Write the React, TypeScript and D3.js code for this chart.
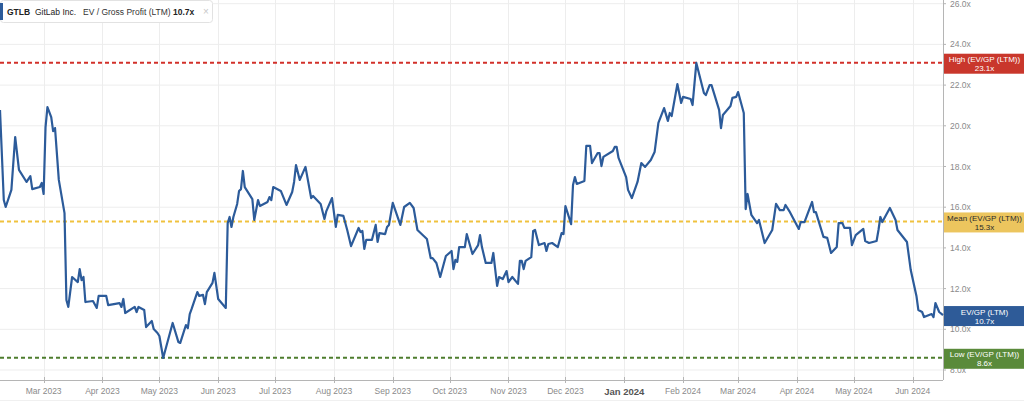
import React from 'react';
import * as d3 from 'd3';

const dates = [
  '2023-02-06','2023-02-08','2023-02-09','2023-02-12','2023-02-14','2023-02-16','2023-02-20','2023-02-22','2023-02-23','2023-02-27',
  '2023-02-28','2023-03-01','2023-03-02','2023-03-03','2023-03-05','2023-03-06','2023-03-07','2023-03-09','2023-03-12','2023-03-13',
  '2023-03-14','2023-03-16','2023-03-19','2023-03-20','2023-03-21','2023-03-22','2023-03-23','2023-03-27','2023-03-29','2023-03-30',
  '2023-04-03','2023-04-04','2023-04-10','2023-04-11','2023-04-12','2023-04-13','2023-04-18','2023-04-19','2023-04-20','2023-04-23',
  '2023-04-24','2023-04-25','2023-04-27','2023-04-28','2023-04-30','2023-05-01','2023-05-03','2023-05-08','2023-05-11','2023-05-12',
  '2023-05-15','2023-05-16','2023-05-17','2023-05-18','2023-05-21','2023-05-22','2023-05-24','2023-05-25','2023-05-26','2023-05-29',
  '2023-05-30','2023-06-01','2023-06-05','2023-06-06','2023-06-07','2023-06-08','2023-06-09','2023-06-11','2023-06-12','2023-06-13',
  '2023-06-14','2023-06-15','2023-06-19','2023-06-20','2023-06-22','2023-06-23','2023-06-27','2023-06-28','2023-06-29','2023-06-30',
  '2023-07-04','2023-07-07','2023-07-10','2023-07-11','2023-07-12','2023-07-14','2023-07-17','2023-07-20','2023-07-21','2023-07-25',
  '2023-07-27','2023-07-28','2023-07-31','2023-08-02','2023-08-03','2023-08-06','2023-08-08','2023-08-10','2023-08-14','2023-08-15',
  '2023-08-16','2023-08-17','2023-08-18','2023-08-21','2023-08-23','2023-08-24','2023-08-25','2023-08-28','2023-08-29','2023-08-30',
  '2023-09-01','2023-09-05','2023-09-07','2023-09-10','2023-09-12','2023-09-14','2023-09-19','2023-09-21','2023-09-22','2023-09-24',
  '2023-09-26','2023-09-29','2023-10-02','2023-10-03','2023-10-04','2023-10-05','2023-10-06','2023-10-09','2023-10-10','2023-10-13',
  '2023-10-16','2023-10-17','2023-10-18','2023-10-20','2023-10-23','2023-10-24','2023-10-26','2023-10-27','2023-10-29','2023-10-31',
  '2023-11-01','2023-11-03','2023-11-06','2023-11-07','2023-11-08','2023-11-09','2023-11-10','2023-11-13','2023-11-14','2023-11-15',
  '2023-11-17','2023-11-20','2023-11-21','2023-11-22','2023-11-24','2023-11-27','2023-11-29','2023-11-30','2023-12-01','2023-12-04',
  '2023-12-05','2023-12-06','2023-12-07','2023-12-11','2023-12-12','2023-12-14','2023-12-15','2023-12-18','2023-12-19','2023-12-20',
  '2023-12-21','2023-12-26','2023-12-27','2023-12-28','2023-12-29','2024-01-02','2024-01-03','2024-01-05','2024-01-08','2024-01-10',
  '2024-01-12','2024-01-15','2024-01-17','2024-01-19','2024-01-22','2024-01-24','2024-01-25','2024-01-26','2024-01-29','2024-01-31',
  '2024-02-01','2024-02-05','2024-02-06','2024-02-08','2024-02-12','2024-02-13','2024-02-15','2024-02-16','2024-02-20','2024-02-21',
  '2024-02-22','2024-02-26','2024-02-27','2024-02-29','2024-03-01','2024-03-04','2024-03-05','2024-03-06','2024-03-08','2024-03-11',
  '2024-03-12','2024-03-15','2024-03-19','2024-03-21','2024-03-23','2024-03-25','2024-03-26','2024-03-28','2024-04-02','2024-04-03',
  '2024-04-05','2024-04-09','2024-04-10','2024-04-11','2024-04-15','2024-04-17','2024-04-19','2024-04-22','2024-04-23','2024-04-25',
  '2024-04-26','2024-04-29','2024-04-30','2024-05-02','2024-05-06','2024-05-07','2024-05-09','2024-05-13','2024-05-14','2024-05-15',
  '2024-05-16','2024-05-20','2024-05-23','2024-05-24','2024-05-29','2024-05-31','2024-06-03','2024-06-04','2024-06-06','2024-06-07',
  '2024-06-11','2024-06-12','2024-06-13','2024-06-15','2024-06-17'
];

const values = [
  20.78,16.35,16.01,16.85,19.45,17.83,17.24,17.53,16.89,16.99,
  17.19,16.65,19.94,20.92,20.43,19.74,19.89,17.34,15.71,11.44,
  11.10,12.57,12.32,12.96,12.42,12.57,11.34,11.39,11.05,11.64,
  11.64,11.19,11.29,11.10,11.49,10.80,11.10,10.85,11.10,10.95,
  10.11,10.21,10.41,10.01,9.82,9.67,8.59,10.31,9.38,9.33,
  10.21,10.06,10.75,11.00,11.83,11.64,11.69,11.24,11.83,12.28,
  12.77,11.49,11.05,15.22,15.52,15.03,15.52,16.16,16.80,16.89,
  17.78,16.99,16.40,15.37,16.35,16.06,16.26,16.50,16.35,16.99,
  16.80,16.11,16.75,17.24,18.07,17.34,17.98,16.45,16.55,16.16,
  15.42,15.81,16.45,15.03,15.62,15.57,14.88,14.09,14.98,14.78,
  14.83,13.95,14.39,14.39,15.13,14.29,14.73,14.68,15.03,15.13,
  16.21,15.13,16.01,16.21,15.96,14.88,14.44,13.50,13.50,13.26,
  12.57,13.60,13.85,12.96,13.41,13.31,14.04,14.04,14.68,13.70,
  14.14,14.63,14.04,13.26,13.26,13.75,12.13,12.57,12.47,12.86,
  12.32,12.57,12.23,13.36,13.36,12.96,13.36,13.55,14.83,14.88,
  14.14,14.24,13.85,14.19,14.24,14.04,14.73,14.68,16.06,15.17,
  17.09,17.48,17.14,17.29,19.01,19.01,18.17,18.66,18.66,18.02,
  18.47,18.76,18.96,18.96,18.42,17.48,16.85,16.45,17.24,18.17,
  17.98,18.32,18.71,20.14,20.87,20.24,20.63,20.48,22.05,21.12,
  21.42,21.32,21.02,23.09,21.61,21.51,22.00,22.00,20.78,19.89,
  20.53,20.97,21.37,21.42,21.66,20.63,15.91,16.65,15.62,15.22,
  15.37,14.24,14.88,16.16,15.86,15.86,16.11,15.81,14.93,15.27,
  15.27,16.26,15.76,15.76,14.54,14.49,13.75,14.04,15.22,15.22,
  14.98,14.98,14.14,14.63,14.93,14.34,14.24,14.34,14.88,15.52,
  15.27,15.96,15.37,14.88,14.29,12.91,11.64,10.95,10.85,10.60,
  10.75,10.60,11.29,10.85,10.70
];

const monthTicks = [
  '2023-03-01','2023-04-01','2023-05-01','2023-06-01','2023-07-01','2023-08-01','2023-09-01','2023-10-01',
  '2023-11-01','2023-12-01','2024-01-01','2024-02-01','2024-03-01','2024-04-01','2024-05-01','2024-06-01'
];
const yTicks = [8, 10, 12, 14, 16, 18, 20, 22, 24, 26];

const highValue = 23.1;
const meanValue = 15.3;
const lowValue = 8.6;
const lastValue = 10.7;

const refLines = [
  { label: 'High (EV/GP (LTM))', value: highValue, box: '#c9372c', dash: '#d2302a', text: '#ffffff' },
  { label: 'Mean (EV/GP (LTM))', value: meanValue, box: '#ecc55e', dash: '#f0c23e', text: '#2b2b2b' },
  { label: 'Low (EV/GP (LTM))', value: lowValue, box: '#5a8a3a', dash: '#4e7d2e', text: '#ffffff' },
];

const FONT = '"Liberation Sans", Arial, Helvetica, sans-serif';

export default function App() {
  const W = 1024;
  const H = 402;
  const plotRight = 943;
  const plotBottom = 380;
  const parse = d3.utcParse('%Y-%m-%d');
  const data = dates.map((d, i) => ({ date: parse(d) as Date, value: values[i] }));
  const x = d3.scaleUtc()
    .domain([parse('2023-02-06') as Date, parse('2024-06-17') as Date])
    .range([0, plotRight]);
  const y = d3.scaleLinear().domain([8, 26]).range([370, 3.7]);
  const line = d3.line<{ date: Date; value: number }>()
    .x((d) => x(d.date))
    .y((d) => y(d.value));
  const fmtMonth = d3.utcFormat('%b %Y');
  const ticks = monthTicks.map((t) => parse(t) as Date);

  const boxes = [
    ...refLines.map((r) => ({ label: r.label, value: r.value, color: r.box, text: r.text })),
    { label: 'EV/GP (LTM)', value: lastValue, color: '#2e5b98', text: '#ffffff' },
  ];

  return (
    <div style={{ position: 'absolute', left: 0, top: 0, width: W, height: H, background: '#fff' }}>
      <svg width={W} height={H} style={{ display: 'block', fontFamily: FONT }}>
        <rect x={0} y={0} width={W} height={H} fill="#ffffff" />
        {yTicks.map((t) => (
          <line key={'hg' + t} x1={0} x2={plotRight} y1={y(t)} y2={y(t)} stroke="#ededed" strokeWidth={1} />
        ))}
        {ticks.map((t, i) => (
          <line key={'vg' + i} x1={Math.round(x(t)) + 0.5} x2={Math.round(x(t)) + 0.5} y1={0} y2={plotBottom} stroke="#ededed" strokeWidth={1} />
        ))}
        <line x1={0} x2={plotRight} y1={plotBottom + 0.5} y2={plotBottom + 0.5} stroke="#b5b5b5" strokeWidth={1} />
        {ticks.map((t, i) => (
          <line key={'bt' + i} x1={Math.round(x(t)) + 0.5} x2={Math.round(x(t)) + 0.5} y1={plotBottom - 3} y2={plotBottom + 3} stroke="#b5b5b5" strokeWidth={1} />
        ))}
        {ticks.map((t, i) => {
          const isJan = t.getUTCMonth() === 0;
          return (
            <text
              key={'bl' + i}
              x={x(t)}
              y={isJan ? 395 : 393.5}
              textAnchor="middle"
              fontSize={isJan ? 9.5 : 8.5}
              fontWeight={isJan ? 700 : 400}
              fill={isJan ? '#555' : '#8a8a8a'}
            >
              {fmtMonth(t)}
            </text>
          );
        })}
        <line x1={0} x2={W} y1={400.5} y2={400.5} stroke="#f0f0f0" strokeWidth={1} />
        <line x1={plotRight + 0.5} x2={plotRight + 0.5} y1={0} y2={plotBottom} stroke="#b5b5b5" strokeWidth={1} />
        {yTicks.map((t) => (
          <g key={'yt' + t}>
            <line x1={plotRight} x2={plotRight + 3} y1={y(t)} y2={y(t)} stroke="#b5b5b5" />
            <text x={plotRight + 7} y={y(t) + 3} fontSize={8.5} fill="#8a8a8a">
              {t.toFixed(1) + 'x'}
            </text>
          </g>
        ))}
        {refLines.map((r) => (
          <line
            key={'rl' + r.label}
            x1={0}
            x2={plotRight}
            y1={y(r.value)}
            y2={y(r.value)}
            stroke={r.dash}
            strokeWidth={2}
            strokeDasharray="4 3"
          />
        ))}
        <path d={line(data) || ''} fill="none" stroke="#2c5b9a" strokeWidth={2.2} strokeLinejoin="round" />
        {boxes.map((b) => {
          const cy = y(b.value) + 1;
          return (
            <g key={'bx' + b.label}>
              <rect x={plotRight + 1} y={cy - 10} width={W - plotRight - 1} height={20} fill={b.color} />
              <text x={(plotRight + W) / 2 + 1} y={cy - 1.5} textAnchor="middle" fontSize={8} fill={b.text}>
                {b.label}
              </text>
              <text x={(plotRight + W) / 2 + 1} y={cy + 7.5} textAnchor="middle" fontSize={8} fill={b.text}>
                {b.value.toFixed(1) + 'x'}
              </text>
            </g>
          );
        })}
        <rect x={0.5} y={0.5} width={212} height={22} rx={3} fill="#ffffff" stroke="#e2e2e2" />
        <rect x={0} y={3} width={3} height={17} fill="#2c5b9a" />
        <text y={15} fontSize={8.5} fill="#222">
          <tspan x={7} fontWeight={700}>GTLB</tspan>
          <tspan x={35} fill="#222">GitLab Inc.</tspan>
          <tspan x={83} fill="#333">EV / Gross Profit (LTM)</tspan>
          <tspan x={173} fontWeight={700}>{lastValue.toFixed(1) + 'x'}</tspan>
        </text>
        <text x={206} y={15} textAnchor="middle" fontSize={10} fill="#c8c8c8">×</text>
      </svg>
    </div>
  );
}
